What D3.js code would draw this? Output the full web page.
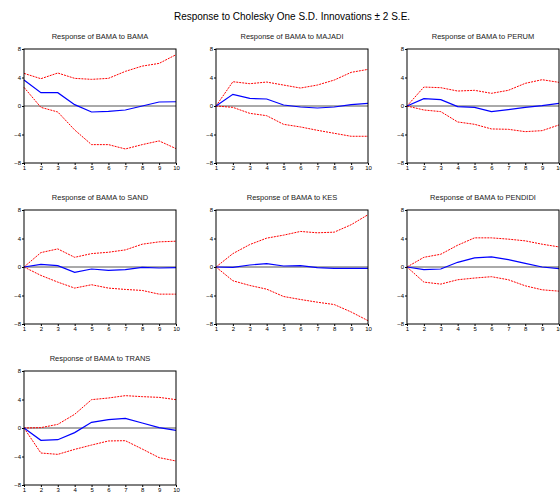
<!DOCTYPE html>
<html><head><meta charset="utf-8">
<script src="https://cdn.jsdelivr.net/npm/d3@7"></script>
<style>body{margin:0;background:#fff}svg{display:block;font-family:"Liberation Sans",Arial,sans-serif}</style>
</head><body><svg id="c" width="560" height="493"></svg>
<script>
const periods = [1,2,3,4,5,6,7,8,9,10];
const yTicks = [-8,-4,0,4,8];
const titles = ["Response of BAMA to BAMA","Response of BAMA to MAJADI","Response of BAMA to PERUM","Response of BAMA to SAND","Response of BAMA to KES","Response of BAMA to PENDIDI","Response of BAMA to TRANS"];
const resp = [
 [3.64,1.87,1.87,0.19,-0.84,-0.75,-0.56,0.0,0.56,0.6],
 [0,1.64,1.07,0.98,0.14,-0.14,-0.28,-0.14,0.19,0.37],
 [0,1.03,0.89,-0.09,-0.19,-0.79,-0.51,-0.19,0.05,0.37],
 [0,0.38,0.19,-0.75,-0.28,-0.47,-0.38,-0.05,-0.14,-0.09],
 [0,-0.05,0.28,0.47,0.14,0.19,-0.09,-0.19,-0.19,-0.19],
 [0,-0.38,-0.28,0.66,1.27,1.41,1.04,0.52,0.0,-0.24],
 [0,-1.73,-1.64,-0.65,0.8,1.17,1.36,0.7,0.05,-0.33]
];
const upper = [
 [4.58,3.83,4.63,3.88,3.74,3.88,4.86,5.6,5.98,7.2],
 [0,3.41,3.13,3.36,2.94,2.52,2.94,3.64,4.72,5.14],
 [0,2.66,2.57,2.1,2.2,1.78,2.2,3.18,3.69,3.32],
 [0,2.02,2.54,1.36,1.88,2.07,2.4,3.2,3.53,3.62],
 [0,1.88,3.15,4.05,4.47,4.99,4.8,4.89,5.93,7.34],
 [0,1.36,1.79,3.06,4.09,4.09,3.91,3.67,3.2,2.82],
 [0,0.05,0.51,1.92,3.98,4.21,4.54,4.4,4.3,3.98]
];
const lower = [
 [2.62,-0.19,-0.84,-3.36,-5.42,-5.42,-6.03,-5.42,-4.9,-5.98],
 [0,-0.19,-1.03,-1.36,-2.57,-2.94,-3.41,-3.83,-4.25,-4.25],
 [0,-0.56,-0.79,-2.24,-2.57,-3.22,-3.27,-3.6,-3.46,-2.66],
 [0,-1.18,-2.12,-2.96,-2.49,-2.96,-3.15,-3.29,-3.81,-3.81],
 [0,-1.93,-2.59,-3.11,-4.14,-4.56,-4.94,-5.27,-6.31,-7.53],
 [0,-2.12,-2.4,-1.79,-1.55,-1.36,-1.79,-2.64,-3.2,-3.39],
 [0,-3.51,-3.7,-3.0,-2.39,-1.82,-1.78,-2.95,-4.16,-4.63]
];
const svg = d3.select("#c");
svg.append("text").attr("x",292).attr("y",20).attr("text-anchor","middle")
  .attr("font-size",10).text("Response to Cholesky One S.D. Innovations \u00b1 2 S.E.");
const colX=[24,216,407], rowY=[49,210,371], W=152, H=114;
titles.forEach((t,i)=>{
  const gx=colX[i%3], gy=rowY[Math.floor(i/3)];
  const g=svg.append("g").attr("transform",`translate(${gx},${gy})`);
  const x=d3.scaleLinear().domain([1,10]).range([0,W]);
  const y=d3.scaleLinear().domain([-8,8]).range([H,0]);
  g.append("text").attr("x",W/2).attr("y",-10).attr("text-anchor","middle").attr("font-size",7.5).attr("fill","#222").text(t);
  const ya=g.append("g").call(d3.axisLeft(y).tickValues(yTicks).tickSize(2).tickPadding(1).tickFormat(d3.format("d")));
  ya.select(".domain").remove();
  ya.selectAll("text").attr("font-size",6).attr("font-family","Liberation Sans, Arial");
  const xa=g.append("g").attr("transform",`translate(0,${H})`).call(d3.axisBottom(x).tickValues(periods).tickSize(2).tickPadding(1).tickFormat(d3.format("d")));
  xa.select(".domain").remove();
  xa.selectAll("text").attr("font-size",6).attr("font-family","Liberation Sans, Arial");
  g.append("line").attr("x1",0).attr("x2",W).attr("y1",y(0)).attr("y2",y(0)).attr("stroke","#555").attr("stroke-width",1);
  const line=d3.line().x((d,j)=>x(periods[j])).y(d=>y(d));
  [upper[i],lower[i]].forEach(s=>g.append("path").attr("d",line(s)).attr("fill","none").attr("stroke","#ff0000").attr("stroke-width",1).attr("stroke-dasharray","2,1"));
  g.append("path").attr("d",line(resp[i])).attr("fill","none").attr("stroke","#0000ff").attr("stroke-width",1.2);
  g.append("rect").attr("x",0).attr("y",0).attr("width",W).attr("height",H).attr("fill","none").attr("stroke","#000").attr("stroke-width",1);
});
</script></body></html>
